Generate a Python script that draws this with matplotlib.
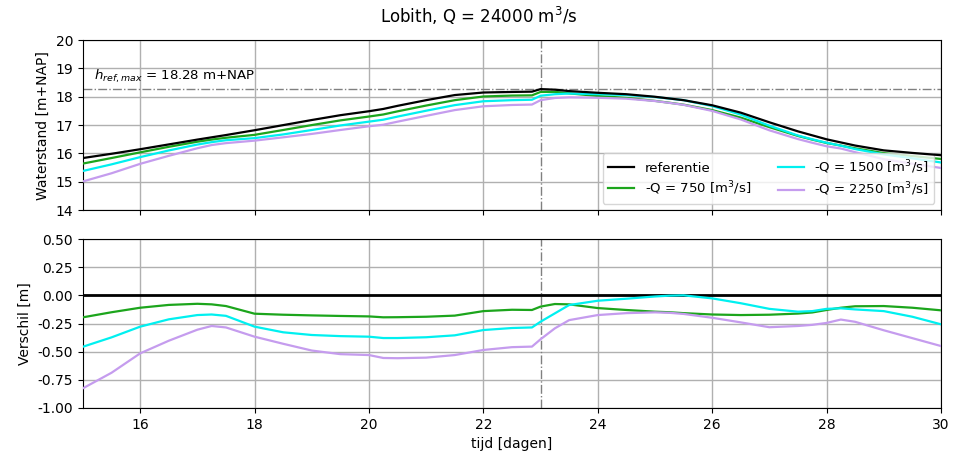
import numpy as np
import matplotlib
matplotlib.use("Agg")
import matplotlib.pyplot as plt
from matplotlib.ticker import FormatStrFormatter

# time axis [days]
days = [15, 15.5, 16, 16.5, 17, 17.25, 17.5, 18, 18.5, 19, 19.5, 20, 20.25, 20.5, 21, 21.5,
        22, 22.5, 22.85, 23.0, 23.25, 23.5, 24, 24.5, 25, 25.25, 25.5, 26, 26.5, 27, 27.5,
        27.75, 28, 28.25, 28.5, 29, 29.5, 30]

# reference water level [m+NAP]
ref_level = [15.84, 15.99, 16.15, 16.32, 16.49, 16.57, 16.65, 16.82, 17.0, 17.18, 17.35, 17.49,
             17.57, 17.68, 17.88, 18.06, 18.15, 18.17, 18.18, 18.27, 18.25, 18.2, 18.14,
             18.09, 18.0, 17.94, 17.88, 17.7, 17.44, 17.1, 16.78, 16.64, 16.5, 16.39, 16.28,
             16.11, 16.02, 15.94]

# differences with reference [m]
diff_750 = [-0.195, -0.15, -0.11, -0.085, -0.075, -0.08, -0.095, -0.163, -0.172, -0.178,
            -0.183, -0.187, -0.195, -0.194, -0.19, -0.18, -0.14, -0.128, -0.13, -0.1,
            -0.077, -0.08, -0.113, -0.13, -0.145, -0.15, -0.158, -0.17, -0.175, -0.172,
            -0.162, -0.152, -0.13, -0.11, -0.097, -0.095, -0.11, -0.133]
diff_1500 = [-0.456, -0.373, -0.278, -0.213, -0.175, -0.17, -0.182, -0.278, -0.328, -0.352,
             -0.362, -0.367, -0.379, -0.379, -0.372, -0.355, -0.308, -0.29, -0.285, -0.234,
             -0.16, -0.086, -0.048, -0.03, -0.01, -0.003, 0.0, -0.027, -0.07, -0.12, -0.145,
             -0.14, -0.12, -0.115, -0.125, -0.14, -0.19, -0.257]
diff_2250 = [-0.825, -0.687, -0.515, -0.403, -0.305, -0.272, -0.285, -0.367, -0.43, -0.49,
             -0.522, -0.53, -0.556, -0.558, -0.553, -0.53, -0.485, -0.46, -0.455, -0.39,
             -0.293, -0.22, -0.175, -0.158, -0.151, -0.155, -0.165, -0.199, -0.24, -0.283,
             -0.272, -0.262, -0.245, -0.215, -0.235, -0.31, -0.38, -0.45]

series_labels = ["referentie", "-Q = 750 [m$^3$/s]", "-Q = 1500 [m$^3$/s]", "-Q = 2250 [m$^3$/s]"]
series_colors = ["black", "#1ca51c", "#00f0f0", "#c59cee"]

h_ref_max = 18.28
t_peak = 23.0

d = np.array(days)
ref = np.array(ref_level)
diffs = [np.zeros_like(ref), np.array(diff_750), np.array(diff_1500), np.array(diff_2250)]

fig = plt.figure(figsize=(9.58, 4.55), dpi=100)
ax1 = fig.add_axes([0.0866, 0.538, 0.8956, 0.374])
ax2 = fig.add_axes([0.0866, 0.1033, 0.8956, 0.3714], sharex=ax1)

for i in [0, 1, 2, 3]:
    ax1.plot(d, ref + diffs[i], color=series_colors[i], lw=1.6, label=series_labels[i],
             zorder=6 if i == 0 else 3)
    ax2.plot(d, diffs[i], color=series_colors[i], lw=1.6 if i else 2.0, zorder=3)

ax1.axhline(h_ref_max, color="grey", ls="-.", lw=1.0, zorder=2)
ax1.axvline(t_peak, color="grey", ls="-.", lw=1.0, zorder=2)
ax2.axvline(t_peak, color="grey", ls="-.", lw=1.0, zorder=2)
ax1.text(15.2, 18.42, r"$h_{ref,max}$ = 18.28 m+NAP", fontsize=9.6, va="bottom")

ax1.set_xlim(15, 30)
ax1.set_ylim(14, 20)
ax2.set_ylim(-1.0, 0.5)
ax1.set_yticks(np.arange(14, 21, 1))
ax2.set_yticks(np.arange(-1.0, 0.51, 0.25))
ax2.yaxis.set_major_formatter(FormatStrFormatter("%.2f"))
ax1.set_xticks(np.arange(16, 31, 2))
plt.setp(ax1.get_xticklabels(), visible=False)

for ax in (ax1, ax2):
    ax.grid(True, color="#b0b0b0", lw=1.0)
    ax.set_axisbelow(True)
    ax.tick_params(labelsize=10)

ax1.set_ylabel("Waterstand [m+NAP]", fontsize=10)
ax2.set_ylabel("Verschil [m]", fontsize=10)
ax2.set_xlabel("tijd [dagen]", fontsize=10)
ax1.legend(ncol=2, loc="lower right", fontsize=9.5, columnspacing=2.0, labelspacing=0.35)
fig.suptitle("Lobith, Q = 24000 m$^3$/s", fontsize=12, y=0.99)

fig.savefig("out.png", dpi=100)
